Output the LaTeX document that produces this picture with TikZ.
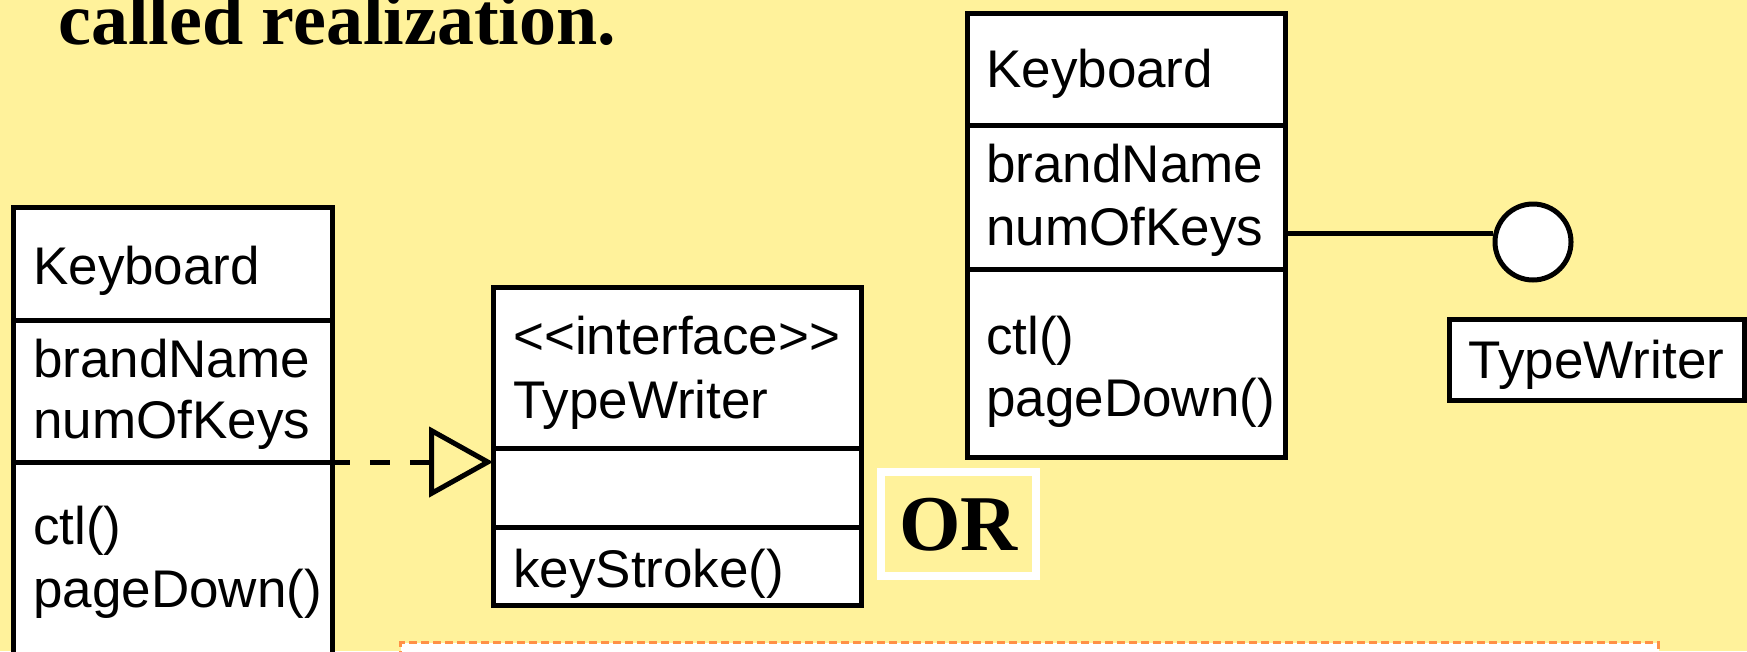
\documentclass[tikz,border=0pt]{standalone}
\usepackage{fontspec}
\setmainfont{Liberation Serif}
\newfontfamily\sansf{Liberation Sans}
\usetikzlibrary{arrows.meta}
\definecolor{bgyellow}{RGB}{255,242,155}
\definecolor{orangeline}{RGB}{255,145,70}
\begin{document}
\begin{tikzpicture}[x=1pt,y=-1pt,
  comp/.style={draw=black, line width=5pt, fill=white, anchor=north west, inner sep=0pt, outer sep=0pt},
  lbl/.style={anchor=base west, inner sep=0pt, font=\sansf\fontsize{53}{61}\selectfont},
  realize/.style={line width=5pt, dash pattern=on 20pt off 20pt, dash phase=2pt,
    -{Triangle[open, length=64pt, width=70pt, line width=5pt]}},
  solidline/.style={line width=5pt},
]
\fill[bgyellow] (0,0) rectangle (1747,651);
\useasboundingbox (0,0) rectangle (1747,651);

% title
\node[anchor=base west, inner sep=0pt, font=\bfseries\fontsize{74}{80}\selectfont] (title) at (58,44) {called realization.};

% left Keyboard class
\node[comp, minimum width=319pt, minimum height=113pt] (kbLn) at (13,207) {};
\node[comp, minimum width=319pt, minimum height=142pt] (kbLa) at (kbLn.south west) {};
\node[comp, minimum width=319pt, minimum height=240pt] (kbLo) at (kbLa.south west) {};
\node[lbl] (kbLt) at (33,284) {Keyboard};
\node[lbl] (kbLa1) at (33,377) {brandName};
\node[lbl] (kbLa2) at (33,438) {numOfKeys};
\node[lbl] (kbLo1) at (33,544) {ctl()};
\node[lbl] (kbLo2) at (33,607) {pageDown()};

% interface TypeWriter
\node[comp, minimum width=368pt, minimum height=161pt] (ifN) at (493,287) {};
\node[comp, minimum width=368pt, minimum height=79pt] (ifA) at (ifN.south west) {};
\node[comp, minimum width=368pt, minimum height=78pt] (ifO) at (ifA.south west) {};
\node[lbl] (ifS) at (513,354) {<<interface>>};
\node[lbl] (ifT) at (513,418) {TypeWriter};
\node[lbl] (ifO1) at (513,587) {keyStroke()};

% realization arrow
\draw[realize] (kbLa.south east) -- (kbLa.south east -| ifA.west);

% OR
\node[draw=white, line width=8pt, fill=bgyellow, minimum width=155pt, minimum height=104pt,
  text height=52pt, text depth=0pt, inner sep=0pt,
  font=\bfseries\fontsize{79}{80}\selectfont] (or) at (958.5,524) {OR};

% right Keyboard class
\node[comp, minimum width=318pt, minimum height=112pt] (kbRn) at (967,13) {};
\node[comp, minimum width=318pt, minimum height=144pt] (kbRa) at (kbRn.south west) {};
\node[comp, minimum width=318pt, minimum height=188pt] (kbRo) at (kbRa.south west) {};
\node[lbl] (kbRt) at (986,87) {Keyboard};
\node[lbl] (kbRa1) at (986,182) {brandName};
\node[lbl] (kbRa2) at (986,245) {numOfKeys};
\node[lbl] (kbRo1) at (986,354) {ctl()};
\node[lbl] (kbRo2) at (986,416) {pageDown()};

% lollipop
\node[circle, draw=black, line width=5pt, fill=white, minimum size=76pt, inner sep=0pt] (lol) at (1533,242) {};
\draw[solidline] (lol.168 -| kbRa.east) -- (lol.168);
\node[draw=black, line width=5pt, fill=white, minimum width=295pt, minimum height=81pt,
  text height=38pt, text depth=0pt, inner sep=0pt, font=\sansf\fontsize{53}{61}\selectfont] (twl) at (1596.5,359.5) {TypeWriter};

% bottom dashed box
\node[draw=orangeline, line width=3pt, dash pattern=on 8pt off 4pt, fill=white, anchor=north west,
  minimum width=1258pt, minimum height=80pt, inner sep=0pt] (note) at (399,641) {};
\end{tikzpicture}
\end{document}
